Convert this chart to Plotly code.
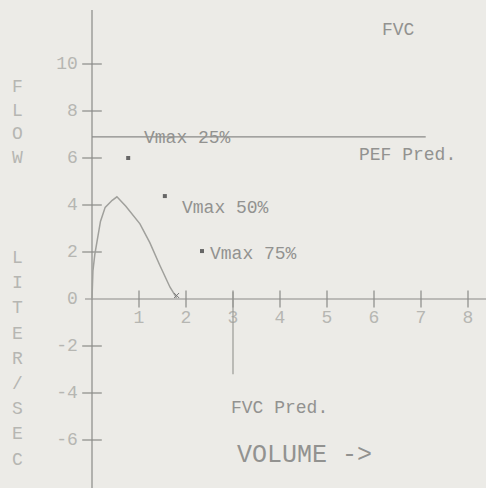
import plotly.graph_objects as go

# Flow-volume curve (volume L, flow L/s)
curve_vol = [0.0, 0.02, 0.06, 0.12, 0.18, 0.28, 0.43, 0.53, 0.72, 1.02, 1.23, 1.44, 1.66, 1.80]
curve_flow = [0.0, 1.2, 1.9, 2.7, 3.3, 3.9, 4.2, 4.35, 3.95, 3.2, 2.4, 1.45, 0.5, 0.05]

# Vmax points
vmax_labels = ["Vmax 25%", "Vmax 50%", "Vmax 75%"]
vmax_vol = [0.77, 1.55, 2.34]
vmax_flow = [6.0, 4.38, 2.04]

# Predicted values
pef_pred = 6.9
pef_pred_end_vol = 7.1
fvc_pred = 3.0
fvc_pred_line_bottom = -3.2

x_ticks = [1, 2, 3, 4, 5, 6, 7, 8]
y_ticks = [10, 8, 6, 4, 2, -2, -4, -6]
y_zero_label = [0]

FONT = "Liberation Mono, Courier New, monospace"
AXIS_C = "#8a8a88"
TICKTXT_C = "#b6b6b2"
TXT_C = "#929290"
BG = "#ecebe7"

PX_X = 47.0
PX_Y = 23.5
X0 = 92
Y0 = 299

def vy(py):
    return (Y0 - py) / PX_Y

fig = go.Figure()

# axes lines
fig.add_trace(go.Scatter(x=[-0.15, 8.5], y=[0, 0], mode="lines",
                         line=dict(color=AXIS_C, width=1.2), hoverinfo="skip"))
fig.add_trace(go.Scatter(x=[0, 0], y=[12.3, -8.2], mode="lines",
                         line=dict(color=AXIS_C, width=1.2), hoverinfo="skip"))

# tick marks
fig.add_trace(go.Scatter(x=x_ticks, y=[0] * len(x_ticks), mode="markers",
                         marker=dict(symbol="line-ns", size=12, line=dict(color=AXIS_C, width=1.2)),
                         hoverinfo="skip"))
fig.add_trace(go.Scatter(x=[0] * len(y_ticks), y=y_ticks, mode="markers",
                         marker=dict(symbol="line-ew", size=14, line=dict(color=AXIS_C, width=1.2)),
                         hoverinfo="skip"))

# tick labels
fig.add_trace(go.Scatter(x=x_ticks, y=[-0.85] * len(x_ticks), mode="text",
                         text=[str(v) for v in x_ticks],
                         textfont=dict(family=FONT, size=18, color=TICKTXT_C), hoverinfo="skip"))
fig.add_trace(go.Scatter(x=[-0.3] * (len(y_ticks) + 1), y=y_ticks + y_zero_label, mode="text",
                         text=[str(v) for v in y_ticks + y_zero_label], textposition="middle left",
                         textfont=dict(family=FONT, size=18, color=TICKTXT_C), hoverinfo="skip"))

# PEF pred line
fig.add_trace(go.Scatter(x=[0, pef_pred_end_vol], y=[pef_pred, pef_pred], mode="lines",
                         line=dict(color=AXIS_C, width=1.2), hoverinfo="skip"))
# FVC pred line
fig.add_trace(go.Scatter(x=[fvc_pred, fvc_pred], y=[0.3, fvc_pred_line_bottom], mode="lines",
                         line=dict(color="#9a9a96", width=1.2), hoverinfo="skip"))

# curve
fig.add_trace(go.Scatter(x=curve_vol, y=curve_flow, mode="lines",
                         line=dict(color="#a0a09c", width=1.5),
                         hoverinfo="skip"))
# curve end mark
fig.add_trace(go.Scatter(x=[curve_vol[-1]], y=[curve_flow[-1] + 0.1], mode="markers",
                         marker=dict(symbol="x-thin", size=5, line=dict(color="#777", width=1)),
                         hoverinfo="skip"))

# vmax points
fig.add_trace(go.Scatter(x=vmax_vol, y=vmax_flow, mode="markers",
                         marker=dict(symbol="square", size=4, color="#666"), hoverinfo="skip"))

annots = [
    ("Vmax 25%", 1.06, 6.85, 18),
    ("Vmax 50%", 1.87, 3.87, 18),
    ("Vmax 75%", 2.47, 1.9, 18),
    ("PEF Pred.", 5.64, 6.13, 18),
    ("FVC", 6.13, 11.45, 18),
    ("FVC Pred.", 2.91, -4.64, 18),
    ("VOLUME ->", 3.05, -6.64, 25),
]
for t, x, y, s in annots:
    fig.add_annotation(x=x, y=y, text=t, showarrow=False, xanchor="left", yanchor="middle",
                       font=dict(family=FONT, size=s, color=TXT_C))

# vertical axis title letters
for i, ch in enumerate("FLOW"):
    fig.add_annotation(x=(17 - X0) / PX_X, y=vy(87 + i * 23.7), text=ch, showarrow=False,
                       xanchor="center", yanchor="middle",
                       font=dict(family=FONT, size=18, color=TICKTXT_C))
for i, ch in enumerate("LITER/SEC"):
    fig.add_annotation(x=(17 - X0) / PX_X, y=vy(258 + i * 25.2), text=ch, showarrow=False,
                       xanchor="center", yanchor="middle",
                       font=dict(family=FONT, size=18, color=TICKTXT_C))

fig.update_layout(
    width=486, height=488, margin=dict(l=0, r=0, t=0, b=0, autoexpand=False),
    paper_bgcolor=BG, plot_bgcolor=BG, showlegend=False,
    xaxis=dict(range=[-X0 / PX_X, (486 - X0) / PX_X], visible=False, fixedrange=True),
    yaxis=dict(range=[-(488 - Y0) / PX_Y, Y0 / PX_Y], visible=False, fixedrange=True),
)

fig.write_html("out.html", config={"displayModeBar": False},
               post_script="document.body.style.margin='0';document.body.style.overflow='hidden';")
